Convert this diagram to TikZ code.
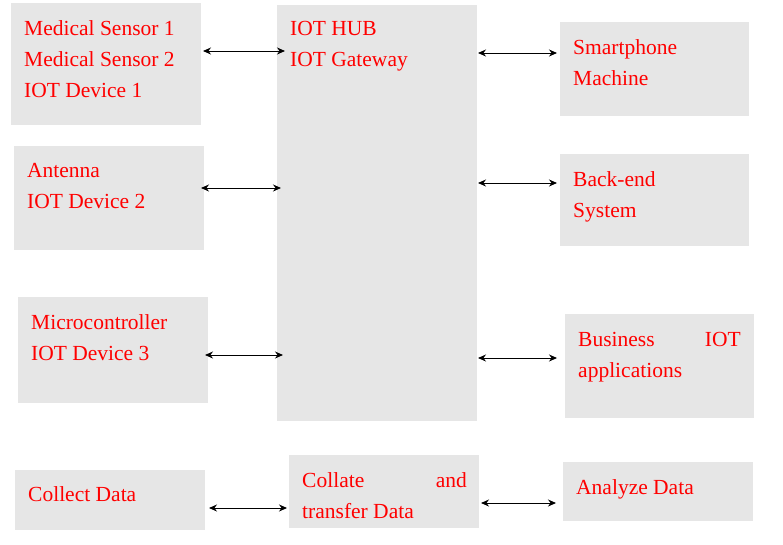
\documentclass[tikz,border=0pt]{standalone}
\usepackage{fontspec}
\setmainfont{Liberation Serif}
\usetikzlibrary{arrows.meta}
\definecolor{boxgray}{HTML}{E6E6E6}
\definecolor{txtred}{HTML}{FF0000}
\begin{document}
\begin{tikzpicture}[x=1pt,y=-1pt,
  box/.style={fill=boxgray,draw=none},
  t/.style={anchor=base west,inner sep=0pt,text=txtred,font=\fontsize{21.5}{25}\selectfont},
  tr/.style={t,anchor=base east},
  link/.style={{Stealth[length=8pt,width=7pt]}-{Stealth[length=8pt,width=7pt]},line width=1pt}]
\useasboundingbox (0,0) rectangle (783,544);
\fill[white] (0,0) rectangle (783,544);
% boxes
\path[box] (11,3) rectangle (201,125);
\path[box] (14,146) rectangle (204,250);
\path[box] (18,297) rectangle (208,403);
\path[box] (277,5) rectangle (477,421);
\path[box] (560,22) rectangle (749,116);
\path[box] (560,154) rectangle (749,246);
\path[box] (565,314) rectangle (754,418);
\path[box] (15,470) rectangle (205,530);
\path[box] (289,455) rectangle (479,528);
\path[box] (563,462) rectangle (753,521);
% texts
\node[t] (s1) at (24,35) {Medical Sensor 1};
\node[t] (s2) at (24,66) {Medical Sensor 2};
\node[t] (d1) at (24,97) {IOT Device 1};
\node[t] (an) at (27,177) {Antenna};
\node[t] (d2) at (27,208) {IOT Device 2};
\node[t] (mc) at (31,329) {Microcontroller};
\node[t] (d3) at (31,360) {IOT Device 3};
\node[t] (hub) at (290,35) {IOT HUB};
\node[t] (gw) at (290,66) {IOT Gateway};
\node[t] (sp) at (573,54) {Smartphone};
\node[t] (ma) at (573,85) {Machine};
\node[t] (be) at (573,186) {Back-end};
\node[t] (sy) at (573,217) {System};
\node[t] (bu) at (578,346) {Business};
\node[tr] (io) at (741,346) {IOT};
\node[t] (ap) at (578,377) {applications};
\node[t] (cd) at (28,501) {Collect Data};
\node[t] (co) at (302,487) {Collate};
\node[tr] (and) at (467,487) {and};
\node[t] (td) at (302,518) {transfer Data};
\node[t] (ad) at (576,494) {Analyze Data};
% arrow endpoints
\coordinate (a1l) at (203,51); \coordinate (a1r) at (285,51);
\coordinate (a2l) at (201,188); \coordinate (a2r) at (281,188);
\coordinate (a3l) at (205,355); \coordinate (a3r) at (283,355);
\coordinate (a4l) at (478,53); \coordinate (a4r) at (557,53);
\coordinate (a5l) at (478,183); \coordinate (a5r) at (557,183);
\coordinate (a6l) at (478,358); \coordinate (a6r) at (557,358);
\coordinate (a7l) at (209,508); \coordinate (a7r) at (287,508);
\coordinate (a8l) at (481,503); \coordinate (a8r) at (556,503);
\foreach \i in {1,...,8} \draw[link] (a\i l) -- (a\i r);
\end{tikzpicture}
\end{document}
